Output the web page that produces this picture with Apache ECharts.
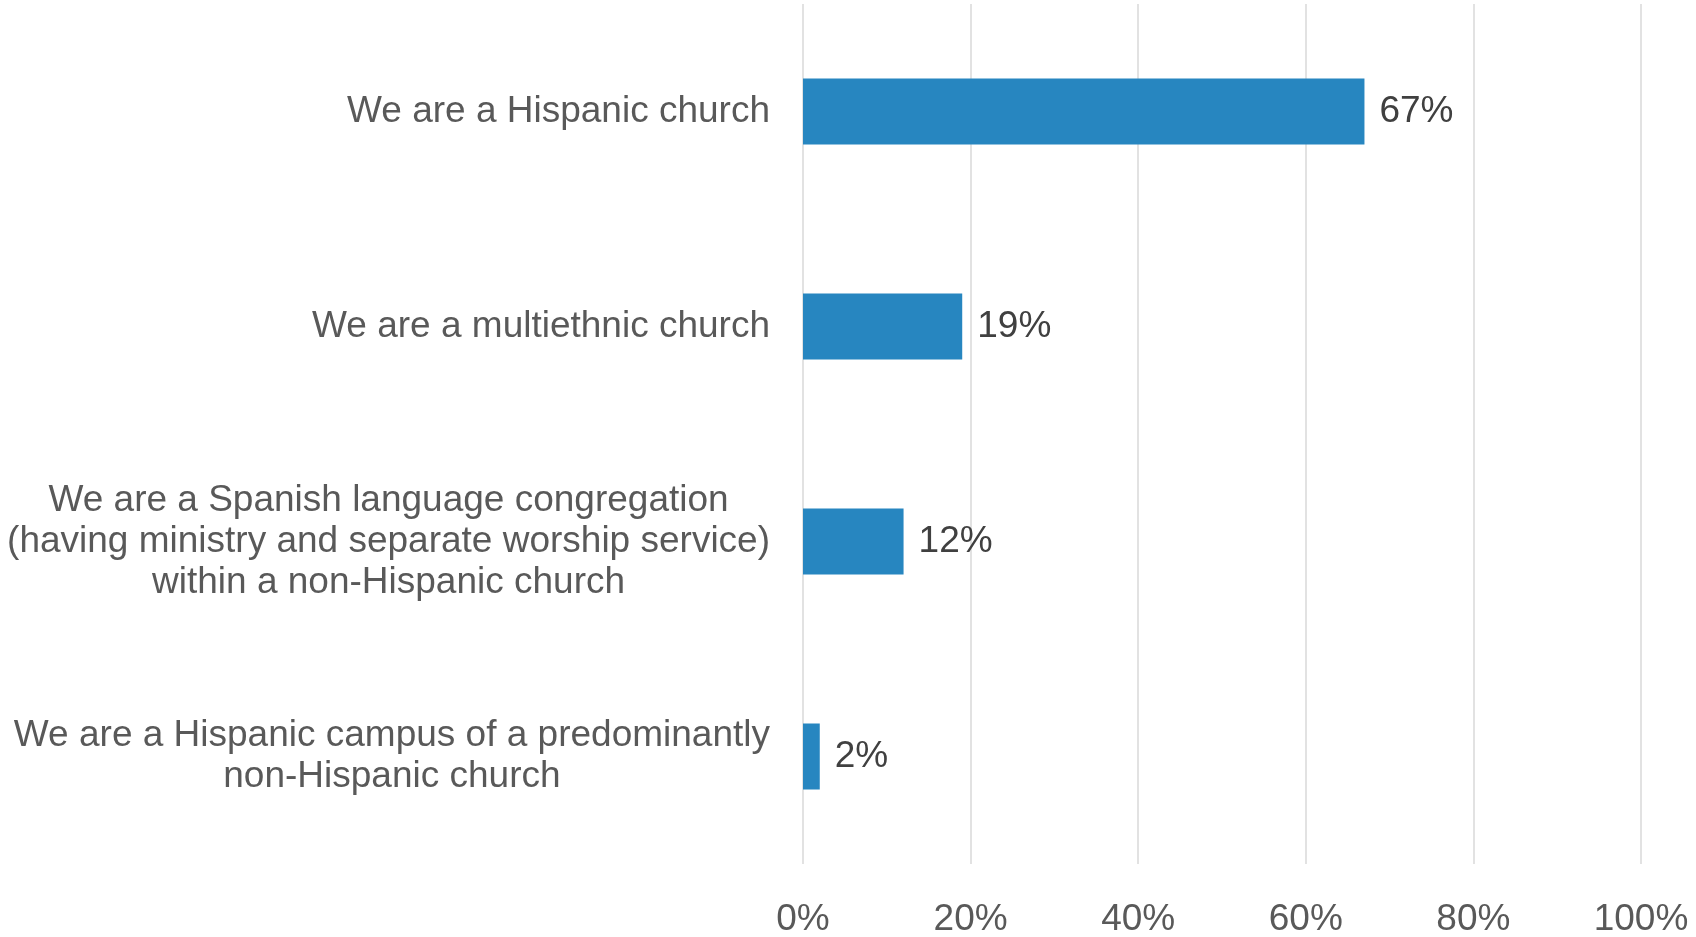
<!DOCTYPE html>
<html>
<head>
<meta charset="utf-8">
<script src="https://cdn.jsdelivr.net/npm/echarts@6/dist/echarts.min.js"></script>
<style>html,body{margin:0;padding:0;background:#fff}#c{width:1696px;height:937px}</style>
</head>
<body>
<div id="c"></div>
<script>
const categories = [
  "We are a Hispanic church",
  "We are a multiethnic church",
  "We are a Spanish language congregation\n(having ministry and separate worship service)\nwithin a non-Hispanic church",
  "We are a Hispanic campus of a predominantly\nnon-Hispanic church"
];
const values = [67, 19, 12, 2];
const xTicks = [0, 20, 40, 60, 80, 100];

const FONT = "'Liberation Sans', Arial, sans-serif";
const chart = echarts.init(document.getElementById('c'), null, {renderer: 'canvas'});
chart.setOption({
  backgroundColor: '#ffffff',
  animation: false,
  grid: {left: 803, right: 55, top: 4, bottom: 73, containLabel: false, outerBoundsMode: 'none'},
  xAxis: {
    type: 'value', min: xTicks[0], max: xTicks[xTicks.length - 1], interval: 20,
    axisLine: {show: false}, axisTick: {show: false},
    splitLine: {show: true, lineStyle: {color: '#d9d9d9', width: 1.5}},
    axisLabel: {formatter: v => v + '%', color: '#595959', fontSize: 37, fontFamily: FONT, margin: 37}
  },
  yAxis: {
    type: 'category', data: categories, inverse: true,
    axisLine: {show: false}, axisTick: {show: false}, splitLine: {show: false},
    axisLabel: {
      margin: 33, color: '#595959', fontSize: 37, fontFamily: FONT, lineHeight: 41,
      formatter: v => v.split('\n').map(l => '{c|' + l + '}').join('\n'),
      rich: {c: {align: 'center', color: '#595959', fontSize: 37, fontFamily: FONT, lineHeight: 41}}
    }
  },
  series: [{
    type: 'bar', data: values, barWidth: '30.7%',
    itemStyle: {color: '#2786C0'},
    label: {show: true, position: 'right', distance: 15, formatter: p => p.value + '%',
      color: '#404040', fontSize: 37, fontFamily: FONT}
  }]
});
</script>
</body>
</html>
